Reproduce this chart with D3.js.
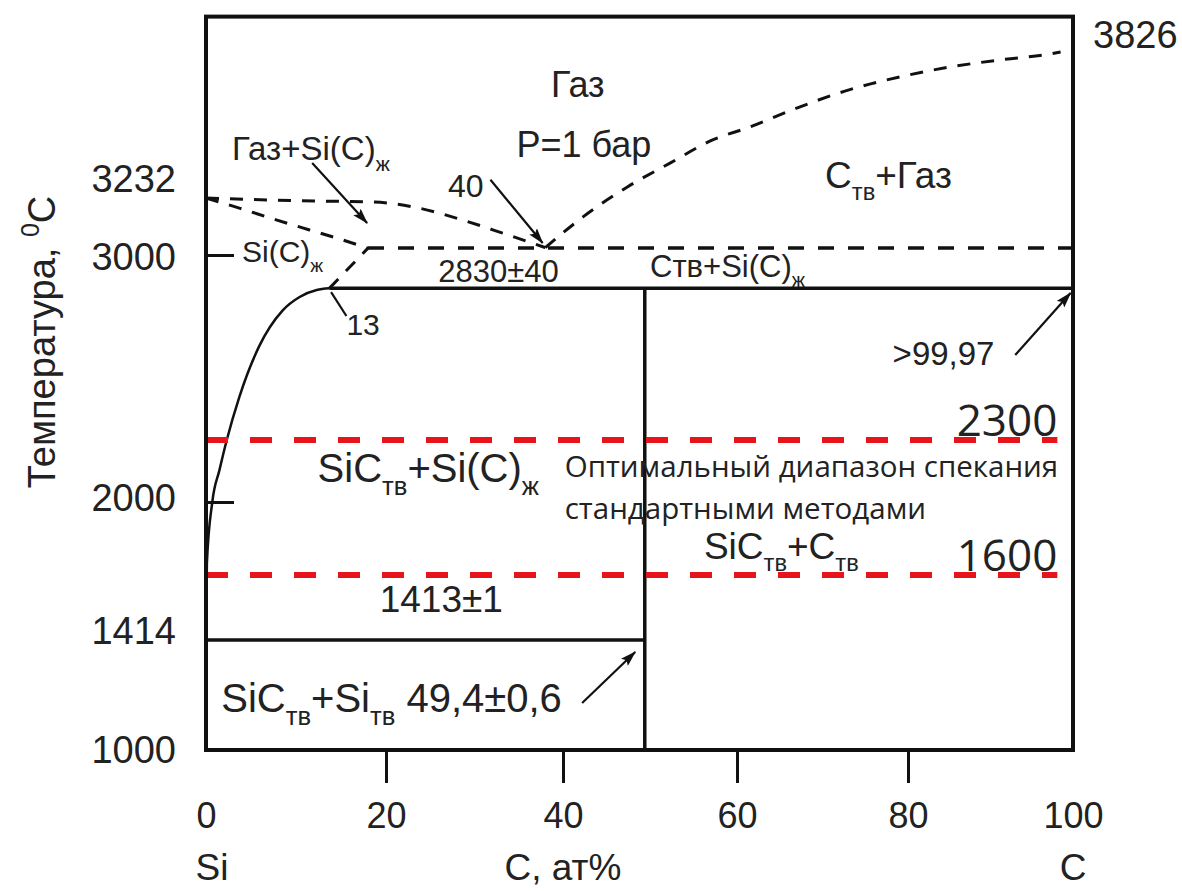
<!DOCTYPE html>
<html>
<head>
<meta charset="utf-8">
<script src="https://cdn.jsdelivr.net/npm/d3@7"></script>
<style>
  body { margin: 0; background: #fff; }
  text { font-family: "Liberation Sans", Arial, sans-serif; fill: #222; }
  .soft { font-family: "Open Sans", "Noto Sans", sans-serif; }
</style>
</head>
<body>
<div id="chart"></div>
<script>
/* Si-C phase diagram, P = 1 bar */

// axis values
let xTicks = [0, 20, 40, 60, 80, 100];
let tTicks = [1000, 1414, 2000, 3000, 3232];
let tBoilC = 3826;
let tTop = 3970;

// phase boundaries (C at.%, temperature °C)
let siLiquidus = [[0, 1414], [0.1, 1740], [0.7, 2000], [1.5, 2130], [2.3, 2250], [3.7, 2425],
                  [5.9, 2630], [8.5, 2775], [10.4, 2830], [12.3, 2858], [13.7, 2865]];
let gasUpper = [[0, 3232], [5, 3226], [12, 3220], [18.5, 3216], [23.7, 3191], [28.6, 3143],
                [33.1, 3090], [38, 3030]];
let gasLower = [[0, 3232], [3.7, 3191], [7.8, 3143], [11.5, 3102], [14.5, 3069], [18, 3028]];
let gasCarbon = [[38, 3030], [42.3, 3155], [47.4, 3277], [52.3, 3374], [57.2, 3468], [61.5, 3521],
                 [67.3, 3602], [73.1, 3672], [79.1, 3725], [85.1, 3765], [91.2, 3794],
                 [97.2, 3818], [98.5, 3826]];
let liqLink = [[13.7, 2865], [18, 3028]];

let peritecticT = 2865;   // solid line SiC decomposition
let gasLineT = 3028;      // dashed line
let eutecticT = 1414;
let sicComp = 49.4;
let sinterLines = [{ label: "2300", t: 2251 }, { label: "1600", t: 1690 }];

// arrows: from -> to, in data units
let arrows = [
  { from: [11.8, 3374], to: [17.9, 3130] },
  { from: [31.8, 3306], to: [37.7, 3049] },
  { from: [93.0, 2595], to: [99.7, 2846] },
  { from: [42.2, 1177], to: [48.3, 1369] }
];
let leader13 = [[13.9, 2850], [15.6, 2753]];

// region / value labels: parts are [text, "sub"|"sup"|undefined]
let labels = [
  { x: 41.7, t: 3643, size: 36, anchor: "middle", parts: [["Газ"]] },
  { x: 42.4, t: 3399, size: 36, anchor: "middle", parts: [["P=1 бар"]] },
  { x: 2.9, t: 3387, size: 33, parts: [["Газ+Si(C)"], ["ж", "sub"]] },
  { x: 27.0, t: 3236, size: 32, parts: [["40"]] },
  { x: 4.0, t: 2972, size: 30, parts: [["Si(C)"], ["ж", "sub"]] },
  { x: 15.6, t: 2676, size: 30, parts: [["13"]] },
  { x: 25.9, t: 2891, size: 31, parts: [["2830±40"]] },
  { x: 50.0, t: 2911, size: 31, parts: [["Cтв+Si(C)"], ["ж", "sub"]] },
  { x: 70.3, t: 3273, size: 37, parts: [["C"], ["тв", "sub"], ["+Газ"]] },
  { x: 78.2, t: 2555, size: 33, parts: [[">99,97"]] },
  { x: 12.4, t: 2081, size: 40, parts: [["SiC"], ["тв", "sub"], ["+Si(C)"], ["ж", "sub"]] },
  { x: 56.2, t: 1758, size: 37, parts: [["SiC"], ["тв", "sub"], ["+C"], ["тв", "sub"]] },
  { x: 19.3, t: 1533, size: 37, parts: [["1413±1"]] },
  { x: 1.7, t: 1143, size: 40, parts: [["SiC"], ["тв", "sub"], ["+Si"], ["тв", "sub"], [" 49,4±0,6"]] },
  { x: 40.2, t: 2101, size: 29.5, cls: "soft", parts: [["Оптимальный диапазон спекания"]] },
  { x: 40.2, t: 1928, size: 29.5, cls: "soft", parts: [["стандартными методами"]] }
];

function addLabel(g, d, x, y) {
  let txt = g.append("text")
    .attr("x", x(d.x))
    .attr("y", y(d.t))
    .attr("font-size", d.size)
    .attr("text-anchor", d.anchor || "start")
    .attr("class", d.cls || null);
  let shift = 0;
  d.parts.forEach(p => {
    let target = p[1] === "sub" ? d.size * 0.33 : p[1] === "sup" ? -d.size * 0.4 : 0;
    txt.append("tspan")
      .attr("dy", target - shift)
      .attr("font-size", p[1] ? d.size * 0.64 : d.size)
      .text(p[0]);
    shift = target;
  });
}

function makeGraph() {
  let w = 1182, h = 891;

  let svg = d3.select("#chart")
              .append("svg")
              .attr("width", w)
              .attr("height", h);

  let x = d3.scaleLinear().domain(xTicks).range([206, 386, 563, 737, 908, 1073]);
  let y = d3.scaleLinear().domain([1000, 1414, 2000, 3000, 3232, tBoilC])
                          .range([750, 640, 502, 255, 198, 52]);

  svg.append("defs").append("marker")
     .attr("id", "arrow")
     .attr("viewBox", "0 0 16 10")
     .attr("refX", 15).attr("refY", 5)
     .attr("markerWidth", 16).attr("markerHeight", 10)
     .attr("markerUnits", "userSpaceOnUse")
     .attr("orient", "auto")
     .append("path")
     .attr("d", "M0,0 L16,5 L0,10 L3,5 z")
     .attr("fill", "#111");

  let line = d3.line().x(d => x(d[0])).y(d => y(d[1]));
  let curve = d3.line().x(d => x(d[0])).y(d => y(d[1])).curve(d3.curveMonotoneX);

  // x axis (ticks hang below the frame)
  let xAxis = svg.append("g")
     .attr("transform", `translate(0, ${y(1000)})`)
     .call(d3.axisBottom(x).tickValues(xTicks).tickSizeInner(33).tickSizeOuter(0).tickPadding(19));
  xAxis.select(".domain").remove();
  xAxis.selectAll(".tick line").attr("stroke", "#111").attr("stroke-width", 3)
       .filter(d => d === 0 || d === 100).remove();
  xAxis.selectAll(".tick text").attr("font-size", 36).attr("fill", "#222")
       .attr("font-family", "Liberation Sans, Arial, sans-serif");

  // y axis (ticks point inside)
  let yShift = { 3232: -19, 1414: -9, 2000: -4, 3000: 2 };
  let yAxis = svg.append("g")
     .attr("transform", `translate(${x(0)}, 0)`)
     .call(d3.axisLeft(y).tickValues(tTicks).tickFormat(d3.format("d"))
             .tickSizeInner(-28).tickSizeOuter(0).tickPadding(30));
  yAxis.select(".domain").remove();
  yAxis.selectAll(".tick line").attr("stroke", "#111").attr("stroke-width", 3)
       .filter(d => d === 1414 || d === 3232).remove();
  yAxis.selectAll(".tick text").attr("font-size", 38).attr("fill", "#222")
       .attr("font-family", "Liberation Sans, Arial, sans-serif")
       .attr("y", d => yShift[d] || 0);

  svg.append("text")
     .attr("x", x(100) + 20)
     .attr("y", y(tBoilC) - 4)
     .attr("font-size", 38)
     .text(tBoilC);

  // axis titles
  let yTitle = svg.append("text")
     .attr("transform", `translate(55, ${y(2830) + 45}) rotate(-90)`)
     .attr("text-anchor", "middle")
     .attr("font-size", 38);
  yTitle.append("tspan").text("Температура, ");
  yTitle.append("tspan").attr("font-size", 25).attr("dy", -16).text("0");
  yTitle.append("tspan").attr("dy", 16).text("C");

  [[0, "Si"], [40, "С, ат%"], [100, "С"]].forEach(d => {
    svg.append("text")
       .attr("x", x(d[0]) + (d[0] === 0 ? 6 : 0))
       .attr("y", y(1000) + 130)
       .attr("text-anchor", "middle")
       .attr("font-size", 37)
       .text(d[1]);
  });

  let plot = svg.append("g");

  // solid phase boundaries
  plot.append("path").datum(siLiquidus).attr("d", curve)
      .attr("fill", "none").attr("stroke", "#111").attr("stroke-width", 2.5);
  plot.append("path").datum([[13.7, peritecticT], [100, peritecticT]]).attr("d", line)
      .attr("fill", "none").attr("stroke", "#111").attr("stroke-width", 3.5);
  plot.append("path").datum([[sicComp, 1000], [sicComp, peritecticT]]).attr("d", line)
      .attr("fill", "none").attr("stroke", "#111").attr("stroke-width", 3.5);
  plot.append("path").datum([[0, eutecticT], [sicComp, eutecticT]]).attr("d", line)
      .attr("fill", "none").attr("stroke", "#111").attr("stroke-width", 3.5);

  // dashed gas boundaries
  [gasUpper, gasLower, gasCarbon, liqLink].forEach(pts => {
    plot.append("path").datum(pts).attr("d", curve)
        .attr("fill", "none").attr("stroke", "#111").attr("stroke-width", 3)
        .attr("stroke-dasharray", "13,11");
  });
  plot.append("path").datum([[18, gasLineT], [100, gasLineT]]).attr("d", line)
      .attr("fill", "none").attr("stroke", "#111").attr("stroke-width", 3.5)
      .attr("stroke-dasharray", "16,14");

  // arrows and leader
  arrows.forEach(a => {
    plot.append("path").datum([a.from, a.to]).attr("d", line)
        .attr("stroke", "#111").attr("stroke-width", 2.2)
        .attr("marker-end", "url(#arrow)");
  });
  plot.append("path").datum(leader13).attr("d", line)
      .attr("stroke", "#111").attr("stroke-width", 2.2);

  // labels
  labels.forEach(d => addLabel(plot, d, x, y));
  sinterLines.forEach(d => {
    plot.append("text").attr("class", "soft")
        .attr("x", x(98.1)).attr("y", y(d.t) - 4)
        .attr("text-anchor", "end").attr("font-size", 44)
        .attr("fill", "#111")
        .text(d.label);
  });

  // sintering range (red dashed)
  plot.selectAll(".sinter")
      .data(sinterLines)
      .enter()
      .append("path")
      .attr("d", d => line([[0, d.t], [98.1, d.t]]))
      .attr("stroke", "#e8141c").attr("stroke-width", 6)
      .attr("stroke-dasharray", "22,22");

  // frame
  svg.append("rect")
     .attr("x", x(0)).attr("y", y(tTop))
     .attr("width", x(100) - x(0)).attr("height", y(1000) - y(tTop))
     .attr("fill", "none").attr("stroke", "#111").attr("stroke-width", 4);
}

window.onload = function() {
  makeGraph();
};
</script>
</body>
</html>
